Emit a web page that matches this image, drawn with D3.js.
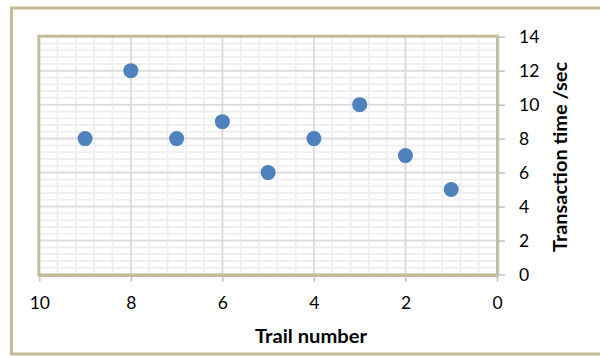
<!DOCTYPE html>
<html><head><meta charset="utf-8">
<script src="https://cdn.jsdelivr.net/npm/d3@7"></script>
<style>html,body{margin:0;padding:0;background:#fff;}svg{display:block;}</style>
</head><body>
<svg id="c" width="600" height="356"></svg>
<script>
const trailNumbers = [9, 8, 7, 6, 5, 4, 3, 2, 1];
const transactionTimes = [8, 12, 8, 9, 6, 8, 10, 7, 5];
const xTicks = [10, 8, 6, 4, 2, 0];
const yTicks = [0, 2, 4, 6, 8, 10, 12, 14];
const xTitle = "Trail number";
const yTitle = "Transaction time /sec";

const svg = d3.select("#c");
const font = "Lato, 'Open Sans', sans-serif";
const x = d3.scaleLinear().domain([10, 0]).range([39.3, 497]);
const y = d3.scaleLinear().domain([0, 14]).range([274.5, 36.7]);

// outer border
svg.append("rect").attr("x", 11.5).attr("y", 8).attr("width", 600).attr("height", 346)
  .attr("fill", "#fff").attr("stroke", "#c4bd97").attr("stroke-width", 3);

// minor grid
const minor = d3.range(0, 10.001, 0.4);
const minorY = d3.range(0, 14.001, 0.4);
const g = svg.append("g");
g.selectAll(".mx").data(minor).join("line")
  .attr("x1", d => x(d)).attr("x2", d => x(d)).attr("y1", y(14)).attr("y2", y(0))
  .attr("stroke", "#f0f0f0").attr("stroke-width", 2);
g.selectAll(".my").data(minorY).join("line")
  .attr("y1", d => y(d)).attr("y2", d => y(d)).attr("x1", x(10)).attr("x2", x(0))
  .attr("stroke", "#f0f0f0").attr("stroke-width", 2);
// major grid
g.selectAll(".Mx").data(xTicks).join("line")
  .attr("x1", d => x(d)).attr("x2", d => x(d)).attr("y1", y(14)).attr("y2", y(0))
  .attr("stroke", "#d9d9d9").attr("stroke-width", 1.5);
g.selectAll(".My").data(yTicks).join("line")
  .attr("y1", d => y(d)).attr("y2", d => y(d)).attr("x1", x(10)).attr("x2", x(0))
  .attr("stroke", "#d9d9d9").attr("stroke-width", 1.5);

// plot border
svg.append("rect").attr("x", x(10) - 0.5).attr("y", y(14) - 0.5)
  .attr("width", x(0) - x(10) + 1).attr("height", y(0) - y(14) + 1)
  .attr("fill", "none").attr("stroke", "#c4bd97").attr("stroke-width", 3);

// axes
const xAxis = svg.append("g").attr("transform", `translate(0,${y(0) + 1})`)
  .call(d3.axisBottom(x).tickValues(xTicks).tickSize(6).tickPadding(15).tickSizeOuter(0));
const yAxis = svg.append("g").attr("transform", `translate(${x(0) + 1},0)`)
  .call(d3.axisRight(y).tickValues(yTicks).tickSize(7).tickPadding(14).tickSizeOuter(0));
[xAxis, yAxis].forEach(a => {
  a.select(".domain").attr("stroke", "#c0c0c0").attr("stroke-width", 1.5);
  a.selectAll(".tick line").attr("stroke", "#bfbfbf").attr("stroke-width", 1.5);
  a.selectAll("text").attr("font-family", font).attr("font-size", 17.5).attr("fill", "#000");
});
xAxis.select(".domain").attr("stroke", "#c4bd97").attr("stroke-width", 2);

// points
svg.append("g").selectAll("circle").data(trailNumbers).join("circle")
  .attr("cx", d => x(d)).attr("cy", (d, i) => y(transactionTimes[i])).attr("r", 7.5)
  .attr("fill", "#4f81bd");

// titles
svg.append("text").attr("x", 311).attr("y", 343).attr("text-anchor", "middle")
  .attr("font-family", font).attr("font-weight", "bold").attr("font-size", 18)
  .attr("textLength", 112).attr("lengthAdjust", "spacingAndGlyphs")
  .text(xTitle);
svg.append("text").attr("transform", "translate(567,157) rotate(-90)").attr("text-anchor", "middle")
  .attr("font-family", font).attr("font-weight", "bold").attr("font-size", 18)
  .attr("textLength", 190).attr("lengthAdjust", "spacingAndGlyphs")
  .text(yTitle);
</script>
</body></html>
